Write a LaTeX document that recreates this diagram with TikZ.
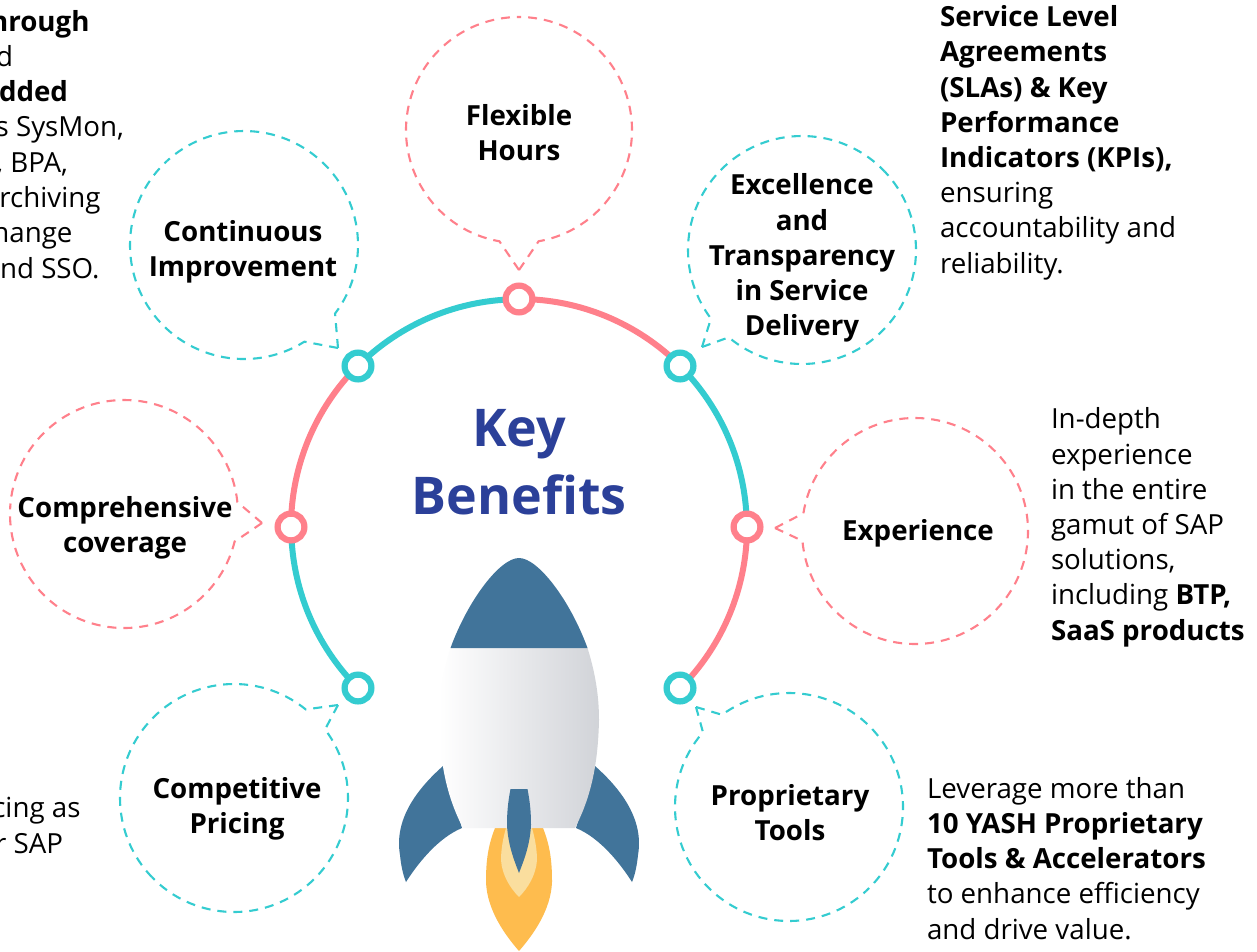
\documentclass[tikz,border=0pt]{standalone}
\usepackage{fontspec}
\setmainfont{Open Sans}
\usetikzlibrary{calc}
\definecolor{tealc}{HTML}{34CCD0}
\definecolor{pinkc}{HTML}{FF808B}
\definecolor{navyc}{HTML}{2B4099}
\definecolor{rocketc}{HTML}{41749A}
\definecolor{flamec}{HTML}{FEBC4E}
\definecolor{flamel}{HTML}{FADE9E}
\definecolor{bodyc}{HTML}{D1D3D8}
\tikzset{
  txt/.style={inner sep=0pt,outer sep=0pt,font=\fontsize{27.7}{35.2}\selectfont,text=black},
  bt/.style={txt,align=center,font=\fontsize{27.7}{35.2}\selectfont\bfseries,anchor=base},
  lt/.style={txt,align=left,anchor=base west},
  rt/.style={txt,anchor=base east},
  ring/.style={circle,draw=#1,fill=white,line width=6.2pt,minimum size=26.8pt,inner sep=0pt},
  arcl/.style={draw=#1,line width=6pt},
  dashb/.style={draw=#1,line width=2.1pt,dash pattern=on 9pt off 7pt}
}
\newcommand{\bub}[6]{% centre, r, start, end, tip, colour
  \draw[dashb=#6] #5 -- ($#1+(#3:#2)$) arc[start angle=#3,end angle={(#3+#4)/2},radius=#2];
  \draw[dashb=#6] #5 -- ($#1+(#4:#2)$) arc[start angle=#4,end angle={(#3+#4)/2},radius=#2];}
\begin{document}
\begin{tikzpicture}[x=1pt,y=1pt,yscale=-1]
\useasboundingbox (0,0) rectangle (1257,951);
\fill[white] (0,0) rectangle (1257,951);
% ring nodes
\draw[arcl=tealc] (358,688) arc[start angle=135,end angle=180,radius=228];
\draw[arcl=pinkc] (291,527) arc[start angle=180,end angle=225,radius=228];
\draw[arcl=tealc] (358,366) arc[start angle=225,end angle=270,radius=228];
\draw[arcl=pinkc] (519,299) arc[start angle=270,end angle=315,radius=228];
\draw[arcl=tealc] (680,366) arc[start angle=315,end angle=360,radius=228];
\draw[arcl=pinkc] (747,527) arc[start angle=0,end angle=45,radius=228];
\node[ring=tealc] (rLL) at (358,688) {};
\node[ring=pinkc] (rL) at (291,527) {};
\node[ring=tealc] (rUL) at (358,366) {};
\node[ring=pinkc] (rT) at (519,299) {};
\node[ring=tealc] (rUR) at (680,366) {};
\node[ring=pinkc] (rR) at (747,527) {};
\node[ring=tealc] (rLR) at (680,688) {};
% bubbles
\bub{(519,130)}{113}{100}{440}{(519,270)}{pinkc}
\bub{(244,245)}{114}{58}{397}{(338,348)}{tealc}
\bub{(802,250)}{114}{143}{490}{(702,347)}{tealc}
\bub{(915,531)}{113}{189}{535}{(775,528)}{pinkc}
\bub{(124,514)}{114}{14}{354}{(262,523)}{pinkc}
\bub{(234,798)}{114}{-37}{309}{(338,705)}{tealc}
\bub{(789,807)}{114}{234}{581}{(696,707)}{tealc}
% bubble texts (anchor = last baseline)
\node[bt] (t1) at (519,160.6) {Flexible\\Hours};
\node[bt] (t2) at (243,276.6) {Continuous\\Improvement};
\node[bt] (t3) at (802,335.6) {Excellence\\and\\Transparency\\in Service\\Delivery};
\node[bt] (t4) at (918,540.6) {Experience};
\node[bt] (t5) at (125,552.6) {Comprehensive\\coverage};
\node[bt] (t6) at (237,833.6) {Competitive\\Pricing};
\node[bt] (t7) at (790,840.6) {Proprietary\\Tools};
% title
\node[txt,align=center,anchor=base,text=navyc,font=\fontsize{52}{68}\selectfont\bfseries] (title) at (519,514) {Key\\Benefits};
% right texts
\node[lt] (sla) at (940,273) {\textbf{Service Level}\\\textbf{Agreements}\\\textbf{(SLAs) \& Key}\\\textbf{Performance}\\\textbf{Indicators (KPIs),}\\ensuring\\accountability and\\reliability.};
\node[lt] (exp) at (1051,640) {In-depth\\experience\\in the entire\\gamut of SAP\\solutions,\\including \textbf{BTP,}\\\textbf{SaaS products}};
\node[lt] (tools) at (927,939) {Leverage more than\\\textbf{10 YASH Proprietary}\\\textbf{Tools \& Accelerators}\\to enhance efficiency\\and drive value.};
% cut-off left texts
\node[rt,font=\fontsize{27.7}{35.2}\selectfont\bfseries] (a1) at (89.5,31) {hrough};
\node[rt] (a2) at (13,66) {d};
\node[rt,font=\fontsize{27.7}{35.2}\selectfont\bfseries] (a3) at (68,101) {dded};
\node[rt] (a4) at (124,136) {s SysMon,};
\node[rt] (a5) at (68,172) {, BPA,};
\node[rt] (a6) at (100.5,207) {rchiving};
\node[rt] (a7) at (72.5,242) {hange};
\node[rt] (a8) at (99.5,278) {nd SSO.};
\node[rt] (b1) at (80.5,817) {cing as};
\node[rt] (b2) at (63,853) {r SAP};
% rocket
\fill[rocketc] (443,766) .. controls (416,790) and (394,820) .. (400,855) .. controls (401,865) and (403,875) .. (406,882) .. controls (420,860) and (440,837) .. (462,828) -- cycle;
\fill[rocketc] (595,766) .. controls (622,790) and (644,820) .. (638,855) .. controls (637,865) and (635,875) .. (632,882) .. controls (618,860) and (598,837) .. (576,828) -- cycle;
\fill[flamec] (495,828) .. controls (487,848) and (486,865) .. (486,882) .. controls (487,910) and (505,935) .. (519,951) .. controls (533,935) and (551,910) .. (552,882) .. controls (552,865) and (551,848) .. (543,828) -- cycle;
\fill[flamel] (506,828) .. controls (503,838) and (501,850) .. (501,860) .. controls (502,875) and (510,888) .. (519,897) .. controls (528,888) and (536,875) .. (537,860) .. controls (537,850) and (535,838) .. (532,828) -- cycle;
\shade[left color=white,right color=bodyc] (450.5,648) -- (587.5,648) .. controls (595,672) and (599,695) .. (599,720) .. controls (598,762) and (592,795) .. (575,828) -- (463,828) .. controls (446,795) and (440,762) .. (439,720) .. controls (439,695) and (443,672) .. (450.5,648) -- cycle;
\fill[rocketc] (450.5,648) .. controls (468,600) and (500,558) .. (519,558) .. controls (538,558) and (570,600) .. (587.5,648) -- cycle;
\fill[rocketc] (510.5,789) -- (527.5,789) .. controls (530,802) and (531,812) .. (531,825) .. controls (530,845) and (524,860) .. (519,873) .. controls (514,860) and (508,845) .. (507,825) .. controls (507,812) and (508,802) .. (510.5,789) -- cycle;
\end{tikzpicture}
\end{document}
